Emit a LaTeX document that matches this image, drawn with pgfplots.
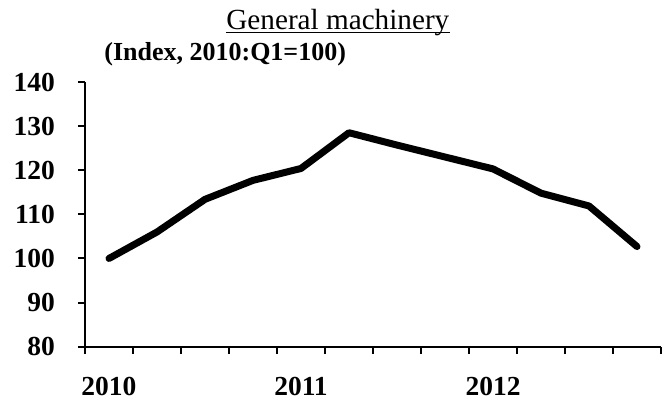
\documentclass[border=0pt]{standalone}
\usepackage{pgfplots}
\pgfplotsset{compat=1.18}
\usepackage{fontspec}
\setmainfont{Liberation Serif}
\begin{document}
\begin{tikzpicture}
\begin{axis}[
  name=ax,
  scale only axis,
  width=288pt, height=132.35pt,
  xmin=0.5, xmax=12.5,
  ymin=80, ymax=140,
  ytick={80,90,...,140},
  axis lines*=left,
  axis line style={line width=1pt},
  tick style={line width=1pt, black},
  tick align=outside,
  major tick length=3.5pt,
  xtick={0.5,1.5,...,12.5},
  xticklabels={},
  extra x ticks={1,5,9},
  extra x tick labels={2010,2011,2012},
  extra x tick style={major tick length=0pt, tick style={draw=none}},
  xticklabel style={yshift=-11.5pt},
  yticklabel style={xshift=-8pt},
  ticklabel style={font=\fontsize{13.75}{16}\selectfont\bfseries},
  /pgf/number format/assume math mode=true,
  clip=false,
]
\addplot[black, line width=3.5pt, line cap=round, line join=round] coordinates {
(1,100.0) (2,106.0) (3,113.4) (4,117.7) (5,120.4) (6,128.5)
(7,125.7) (8,123.0) (9,120.3) (10,114.8) (11,111.9) (12,102.7)
};
\node[anchor=base, inner sep=0pt, font=\fontsize{14.6}{17}\selectfont] (ttl) at (rel axis cs:0.439,1.200) {General machinery};
\draw[line width=0.85pt] ([yshift=-1.75pt]ttl.base west) -- ([yshift=-1.75pt]ttl.base east);
\node[anchor=base west, inner sep=0pt, font=\fontsize{13}{16}\selectfont\bfseries] at (rel axis cs:0.033,1.080) {(Index, 2010:Q1=100)};
\coordinate (bl) at (rel axis cs:0,0);
\coordinate (tr) at (rel axis cs:1,1);
\end{axis}
\pgfresetboundingbox
\path[use as bounding box] ([xshift=-42.5pt,yshift=-29.15pt]bl) rectangle ([xshift=1pt,yshift=41pt]tr);
\end{tikzpicture}
\end{document}
